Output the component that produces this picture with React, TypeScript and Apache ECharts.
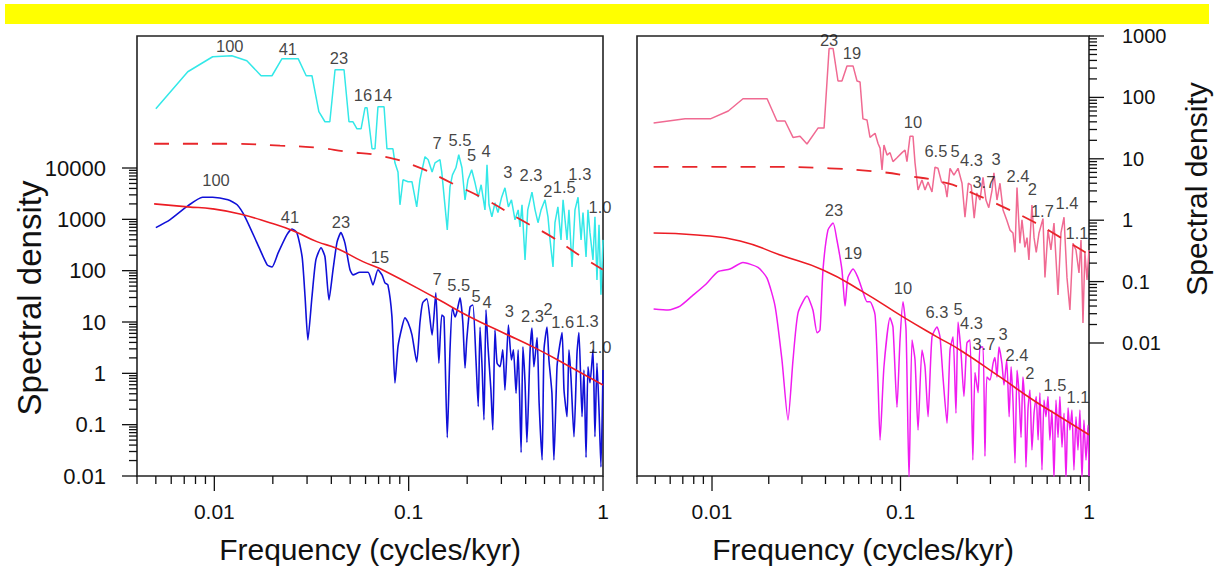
import React, { useEffect, useRef } from 'react';
import * as echarts from 'echarts';

const FONT = '"Liberation Sans", Arial, Helvetica, sans-serif';

// ---------- Left panel (frequency [cycles/kyr], spectral density) ----------
const cyanSpectrum: [number, number][] = [[0.005,143000],[0.0073,750000],[0.0098,1470000],[0.0123,1540000],[0.0147,1230000],[0.0174,627000],[0.0198,627000],[0.0223,1350000],[0.027,1350000],[0.0297,627000],[0.0318,627000],[0.0345,125000],[0.0371,79600],[0.0393,79600],[0.0418,820000],[0.0465,820000],[0.0493,79600],[0.0517,79600],[0.0542,58100],[0.0569,58100],[0.0596,149000],[0.0611,149000],[0.0648,23700],[0.0671,23700],[0.0695,156000],[0.0747,156000],[0.0773,23700],[0.083,23700],[0.085,12600],[0.0881,8400],[0.0902,1920],[0.0935,5890],[0.0993,5400],[0.104,5400],[0.11,1750],[0.1143,5890],[0.1213,16600],[0.126,14500],[0.132,8400],[0.1366,12600],[0.1449,14500],[0.148,8400],[0.158,624],[0.1632,4300],[0.168,7360],[0.175,10100],[0.181,18100],[0.188,10100],[0.195,2400],[0.2018,5890],[0.211,9230],[0.2195,5150],[0.228,2700],[0.236,4710],[0.247,1530],[0.253,11500],[0.259,1920],[0.268,1120],[0.278,2100],[0.288,1350],[0.301,2700],[0.313,4120],[0.326,1750],[0.338,2400],[0.3525,977],[0.366,1530],[0.374,715],[0.383,1920],[0.397,162],[0.41,1530],[0.431,3400],[0.447,1530],[0.463,860],[0.48,1530],[0.503,2400],[0.521,1120],[0.534,398],[0.553,118],[0.566,860],[0.586,1750],[0.608,398],[0.623,2400],[0.653,398],[0.668,1530],[0.693,118],[0.7175,1530],[0.744,2700],[0.771,398],[0.789,1350],[0.818,185],[0.837,1530],[0.857,550],[0.888,162],[0.909,1120],[0.931,66],[0.954,782],[0.976,34],[1,398]];

const blueSpectrum: [number, number][] = [[0.005,690],[0.0059,977],[0.0073,1830],[0.0087,2700],[0.0098,2700],[0.01175,2400],[0.0131,1920],[0.0144,1110],[0.0166,345],[0.0187,130],[0.0198,118],[0.0213,222],[0.0236,499],[0.0251,650],[0.0266,550],[0.0283,185],[0.0293,31],[0.0303,4.48],[0.0318,31],[0.0333,162],[0.0354,280],[0.0371,185],[0.0389,27],[0.0408,104],[0.0428,360],[0.0448,550],[0.047,345],[0.0499,104],[0.0517,83],[0.0561,93],[0.0618,93],[0.0655,53],[0.0695,104],[0.0729,83],[0.0755,58],[0.0782,53],[0.082,12.9],[0.085,0.65],[0.0881,3.3],[0.0924,8],[0.0957,12.1],[0.0993,9.8],[0.104,5.6],[0.11,1.66],[0.1143,9.8],[0.118,23.6],[0.124,28.3],[0.132,5.6],[0.138,37],[0.143,1.58],[0.148,13.7],[0.152,12.5],[0.158,0.056],[0.1632,2.86],[0.168,18.9],[0.1732,12.5],[0.177,15.7],[0.1838,29.6],[0.19,9.8],[0.195,1.27],[0.199,4.48],[0.207,19.7],[0.214,21.5],[0.222,1.82],[0.228,0.226],[0.233,8],[0.239,1.16],[0.244,0.124],[0.25,17.2],[0.256,3.3],[0.265,0.474],[0.271,0.0788],[0.278,7],[0.285,1.58],[0.295,1.34],[0.305,2.86],[0.313,0.474],[0.326,8.77],[0.338,1.82],[0.346,2.86],[0.357,0.41],[0.366,2.86],[0.379,0.0286],[0.387,3.3],[0.397,0.654],[0.406,0.045],[0.421,2.5],[0.431,7.6],[0.441,1.34],[0.458,5],[0.469,0.27],[0.486,0.0205],[0.497,2.86],[0.515,8],[0.527,1.82],[0.546,0.41],[0.559,0.0205],[0.58,1.34],[0.594,2.86],[0.616,6.2],[0.63,0.474],[0.653,0.143],[0.668,2.86],[0.684,0.85],[0.709,0.058],[0.735,2.5],[0.752,6.2],[0.78,0.143],[0.798,1.16],[0.818,0.023],[0.837,1.34],[0.857,0.654],[0.888,2.86],[0.909,0.058],[0.931,1.58],[0.954,0.194],[0.976,0.015],[1,1.16]];

const leftRedNoise: [number, number][] = [[0.0049,2000],[0.0073,1750],[0.0098,1600],[0.01355,1270],[0.0193,860],[0.0254,600],[0.0337,368],[0.0428,270],[0.0582,150],[0.0711,110],[0.14,28.3],[0.207,12.5],[0.306,6.2],[0.457,3],[0.676,1.34],[1,0.594]];

const leftRedNoiseUpper: [number, number][] = [[0.0049,29700],[0.012,29700],[0.0218,27200],[0.0337,24900],[0.0481,20800],[0.0711,17300],[0.1077,11000],[0.168,5000],[0.253,2350],[0.374,1000],[0.553,440],[0.735,214],[1,104]];

const cyanPeakLabels: [string, number, number][] = [['100',0.012,2.41e6],['41',0.0239,2.11e6],['23',0.0438,1.41e6],['16',0.0582,2.67e5],['14',0.0738,2.67e5],['7',0.14,31000],['5.5',0.1838,35500],['5',0.211,18100],['4',0.25,21600],['3',0.324,8400],['2.3',0.426,7360],['2',0.52,3590],['1.5',0.632,4200],['1.3',0.76,7750],['1.0',0.965,1750]];

const bluePeakLabels: [string, number, number][] = [['100',0.0102,5890],['41',0.0245,1110],['23',0.0448,890],['15',0.0711,185],['7',0.14,70],['5.5',0.181,52.8],['5',0.222,32],['4',0.253,24.6],['3',0.33,16.4],['2.3',0.434,13.1],['2',0.521,17.9],['1.6',0.62,10.1],['1.3',0.83,10.5],['1.0',0.965,3.3]];

// ---------- Right panel ----------
const pinkSpectrum: [number, number][] = [[0.0049,38.4],[0.0072,44.8],[0.0098,44.7],[0.0122,60],[0.0146,95],[0.0196,95],[0.0221,41.3],[0.0244,41.3],[0.0269,22.3],[0.0293,23.2],[0.0319,17.4],[0.0365,31.6],[0.0393,31.6],[0.0418,625],[0.0439,625],[0.0466,185],[0.0489,185],[0.052,326],[0.056,326],[0.0588,185],[0.061,178],[0.0632,44.7],[0.0664,42.9],[0.0689,22.3],[0.0733,26.1],[0.076,17.8],[0.0779,14.9],[0.0798,6.57],[0.0817,16.8],[0.0848,11.5],[0.088,12.6],[0.0912,9.0],[0.0958,10.4],[0.1019,12.6],[0.1057,13.9],[0.1082,9.0],[0.1123,23.2],[0.1165,23.2],[0.1194,8.6],[0.1239,3.1],[0.13,4.52],[0.1349,3.1],[0.14,4.2],[0.1469,2.88],[0.1524,7.3],[0.158,7.0],[0.165,4.2],[0.1722,3.74],[0.1765,2.37],[0.1831,7.0],[0.192,5.44],[0.2019,7.0],[0.212,4.0],[0.2198,1.12],[0.229,4.0],[0.237,3.74],[0.246,1.08],[0.254,2.78],[0.264,2.13],[0.274,5.0],[0.284,2.13],[0.294,1.6],[0.306,3.1],[0.313,5.9],[0.325,2.13],[0.337,4.0],[0.35,1.47],[0.366,1.01],[0.381,0.69],[0.395,0.62],[0.405,0.3],[0.415,3.4],[0.43,0.42],[0.441,1.01],[0.457,0.36],[0.469,0.52],[0.48,0.225],[0.498,1.77],[0.511,0.52],[0.525,0.3],[0.543,0.62],[0.57,1.06],[0.584,0.117],[0.606,0.69],[0.628,0.327],[0.652,0.9],[0.685,0.0605],[0.71,0.62],[0.737,1.12],[0.764,0.117],[0.792,0.0344],[0.822,0.42],[0.853,0.327],[0.885,0.138],[0.907,0.476],[0.929,0.0212],[0.951,0.3],[0.976,0.106],[1,0.327]];

const magentaSpectrum: [number, number][] = [[0.0049,0.0357],[0.00585,0.0344],[0.00677,0.04],[0.00783,0.058],[0.00918,0.088],[0.01076,0.145],[0.01245,0.16],[0.0146,0.204],[0.01754,0.17],[0.01958,0.114],[0.0216,0.04],[0.0235,0.0053],[0.0253,0.000557],[0.0269,0.0053],[0.0286,0.031],[0.0319,0.058],[0.0343,0.0344],[0.0361,0.0147],[0.0374,0.0163],[0.0388,0.155],[0.0412,0.69],[0.0439,0.9],[0.046,0.476],[0.0489,0.155],[0.0508,0.04],[0.0526,0.117],[0.056,0.16],[0.0594,0.117],[0.0632,0.068],[0.0664,0.047],[0.0689,0.047],[0.0733,0.0286],[0.076,0.00223],[0.0779,0.000263],[0.0817,0.0041],[0.088,0.0257],[0.0912,0.0183],[0.0958,0.0009],[0.0994,0.0112],[0.1031,0.047],[0.107,0.0163],[0.111,0.00006],[0.1151,0.0112],[0.1194,0.0053],[0.1239,0.000383],[0.13,0.0077],[0.1349,0.0041],[0.14,0.00063],[0.1469,0.0126],[0.1562,0.0183],[0.162,0.0126],[0.168,0.0028],[0.1765,0.000495],[0.1831,0.0077],[0.19,0.0126],[0.1969,0.00072],[0.2019,0.022],[0.209,0.0077],[0.217,0.00135],[0.225,0.01],[0.2337,0.0112],[0.242,0.000124],[0.2484,0.0033],[0.258,0.00155],[0.264,0.0086],[0.274,0.0086],[0.2806,0.000143],[0.287,0.0028],[0.2983,0.0025],[0.31,0.0047],[0.317,0.0058],[0.325,0.0028],[0.333,0.0086],[0.345,0.0047],[0.354,0.00207],[0.366,0.0053],[0.377,0.00063],[0.386,0.0041],[0.395,0.00118],[0.405,0.00011],[0.415,0.0036],[0.425,0.00155],[0.436,0.00029],[0.446,0.0028],[0.457,0.00081],[0.463,0.000095],[0.475,0.00088],[0.486,0.00172],[0.498,0.000181],[0.511,0.00072],[0.525,0.00135],[0.537,0.000263],[0.549,0.00155],[0.563,0.0000855],[0.577,0.00118],[0.591,0.00063],[0.606,0.00135],[0.62,0.000263],[0.636,0.00081],[0.652,0.00006],[0.668,0.00118],[0.685,0.00029],[0.701,0.00135],[0.719,0.0002],[0.737,0.00072],[0.755,0.00006],[0.774,0.00088],[0.792,0.000383],[0.812,0.00081],[0.832,0.0000855],[0.853,0.00063],[0.874,0.000181],[0.895,0.00081],[0.918,0.00006],[0.94,0.000557],[0.964,0.000124],[0.988,0.00046],[1,0.00006]];

const rightRedNoise: [number, number][] = [[0.0049,0.62],[0.00832,0.574],[0.0141,0.46],[0.023,0.271],[0.0388,0.155],[0.0632,0.068],[0.1031,0.0266],[0.156,0.0126],[0.2068,0.0077],[0.337,0.0028],[0.505,0.00118],[0.701,0.00063],[1,0.00032]];

const rightRedNoiseUpper: [number, number][] = [[0.0049,7.4],[0.01865,7.4],[0.042,7.0],[0.0779,6.1],[0.103,5.44],[0.1765,4.0],[0.254,2.57],[0.35,1.65],[0.505,0.95],[0.701,0.53],[0.976,0.29],[1,0.28]];

const pinkPeakLabels: [string, number, number][] = [['23',0.0418,861],['19',0.0553,528],['10',0.1165,39.7],['6.5',0.154,13.3],['5',0.1946,13.3],['4.3',0.238,9.4],['3',0.321,10],['3.7',0.277,4.2],['2.4',0.42,5.2],['2',0.5,3.2],['1.7',0.566,1.4],['1.4',0.764,1.9],['1.1',0.863,0.62]];

const magentaPeakLabels: [string, number, number][] = [['23',0.0444,1.47],['19',0.056,0.297],['10',0.1031,0.079],['6.3',0.156,0.0325],['5',0.2019,0.0357],['4.3',0.238,0.0215],['3.7',0.277,0.0098],['3',0.35,0.0142],['2.4',0.415,0.0064],['2',0.486,0.0033],['1.5',0.659,0.00207],['1.1',0.874,0.00132]];

// ---------- Axes ----------
const X_MIN = 0.004;
const X_MAX = 1;
const LEFT_Y_MIN = 0.01;
const LEFT_Y_MAX = 3.73e6;
const RIGHT_Y_MIN = 6.82e-5;
const RIGHT_Y_MAX = 1000;
const xTickLabels = ['0.01', '0.1', '1'];
const leftYTickLabels = ['0.01', '0.1', '1', '10', '100', '1000', '10000'];
const rightYTickLabels = ['0.01', '0.1', '1', '10', '100', '1000'];

const labelFormatter = (labels: string[]) => (v: number) => {
  for (const l of labels) {
    if (Math.abs(Math.log10(v) - Math.log10(parseFloat(l))) < 1e-6) return l;
  }
  return '';
};

// tick positions (major decades + minor 2..9 subdivisions)
function logTicks(fromExp: number, toExp: number, minorStart: number, minorEndExp: number) {
  const out: { v: number; major: boolean }[] = [];
  for (let e = fromExp; e <= toExp; e++) out.push({ v: Math.pow(10, e), major: true });
  for (let e = fromExp - 1; e <= minorEndExp; e++) {
    for (let m = 2; m <= 9; m++) {
      const v = m * Math.pow(10, e);
      if (v >= minorStart - 1e-12) out.push({ v, major: false });
    }
  }
  return out;
}

const xTicks = logTicks(-2, 0, 0.004, -1);
const leftYTicks = logTicks(-2, 4, 0.01, 3);
const rightYTicks = logTicks(-2, 3, 0.01, 2);

function tickSeries(xi: number, kind: 'x' | 'yl' | 'yr', ticks: { v: number; major: boolean }[], anchor: number) {
  return {
    type: 'custom',
    xAxisIndex: xi,
    yAxisIndex: xi,
    silent: true,
    clip: false,
    z: 20,
    data: ticks.map(t => (kind === 'x' ? [t.v, anchor, t.major ? 1 : 0] : [anchor, t.v, t.major ? 1 : 0])),
    renderItem: (_params: any, api: any) => {
      const p = api.coord([api.value(0), api.value(1)]);
      const major = api.value(2) === 1;
      let shape;
      if (kind === 'x') shape = { x1: p[0], y1: p[1], x2: p[0], y2: p[1] + (major ? 15 : 8) };
      else if (kind === 'yl') shape = { x1: p[0], y1: p[1], x2: p[0] - (major ? 15 : 8), y2: p[1] };
      else shape = { x1: p[0], y1: p[1], x2: p[0] + (major ? 15 : 8), y2: p[1] };
      return { type: 'line', shape, style: { stroke: '#111', lineWidth: 1.3 } };
    },
  };
}

function lineSeries(idx: number, data: [number, number][], color: string, width: number, dashed = false, smooth: number | boolean = false) {
  return {
    type: 'line',
    xAxisIndex: idx,
    yAxisIndex: idx,
    data,
    symbol: 'none',
    smooth,
    clip: true,
    lineStyle: { color, width, type: dashed ? [15, 14] : 'solid' },
    z: 5,
  };
}

function labelSeries(idx: number, labels: [string, number, number][]) {
  return {
    type: 'scatter',
    xAxisIndex: idx,
    yAxisIndex: idx,
    symbolSize: 1,
    itemStyle: { color: 'rgba(0,0,0,0)' },
    silent: true,
    clip: false,
    z: 15,
    data: labels.map(([t, f, s]) => ({ name: t, value: [f, s] })),
    label: {
      show: true,
      position: 'inside',
      formatter: '{b}',
      fontSize: 16.5,
      lineHeight: 17,
      fontFamily: FONT,
      color: '#111',
    },
  };
}

const axisLabelStyle = { fontSize: 20, fontFamily: FONT, color: '#111' };

export default function App() {
  const ref = useRef<HTMLDivElement>(null);
  useEffect(() => {
    if (!ref.current) return;
    const chart = echarts.init(ref.current, null, { renderer: 'svg' });
    const gridBase = { top: 36, height: 440, show: true, borderColor: '#222', borderWidth: 1.6, backgroundColor: 'transparent', containLabel: false };
    const xAxisBase = (gi: number) => ({
      gridIndex: gi,
      type: 'log',
      logBase: 10,
      min: X_MIN,
      max: X_MAX,
      axisLine: { show: false },
      axisTick: { show: false },
      splitLine: { show: false },
      minorTick: { show: false },
      axisLabel: { ...axisLabelStyle, fontSize: 21, margin: 25, formatter: labelFormatter(xTickLabels) },
    });
    chart.setOption({
      animation: false,
      backgroundColor: '#fff',
      grid: [
        { ...gridBase, left: 137, width: 466 },
        { ...gridBase, left: 637, width: 452 },
      ],
      xAxis: [xAxisBase(0), xAxisBase(1)],
      yAxis: [
        {
          gridIndex: 0,
          type: 'log',
          logBase: 10,
          min: LEFT_Y_MIN,
          max: LEFT_Y_MAX,
          position: 'left',
          axisLine: { show: false },
          axisTick: { show: false },
          splitLine: { show: false },
          axisLabel: { ...axisLabelStyle, fontSize: 22, margin: 31, formatter: labelFormatter(leftYTickLabels) },
        },
        {
          gridIndex: 1,
          type: 'log',
          logBase: 10,
          min: RIGHT_Y_MIN,
          max: RIGHT_Y_MAX,
          position: 'right',
          axisLine: { show: false },
          axisTick: { show: false },
          splitLine: { show: false },
          axisLabel: { ...axisLabelStyle, margin: 33, formatter: labelFormatter(rightYTickLabels) },
        },
      ],
      graphic: [
        { type: 'rect', shape: { x: 5, y: 4, width: 1204, height: 20 }, style: { fill: '#ffff00' }, silent: true },
        { type: 'text', x: 29, y: 298, rotation: Math.PI / 2, style: { text: 'Spectral density', fontSize: 33, fontFamily: FONT, fill: '#111', align: 'center', verticalAlign: 'middle' } },
        { type: 'text', x: 1196, y: 189, rotation: Math.PI / 2, style: { text: 'Spectral density', fontSize: 30, fontFamily: FONT, fill: '#111', align: 'center', verticalAlign: 'middle' } },
        { type: 'text', x: 370, y: 549, style: { text: 'Frequency (cycles/kyr)', fontSize: 30, fontFamily: FONT, fill: '#111', align: 'center', verticalAlign: 'middle' } },
        { type: 'text', x: 863, y: 549, style: { text: 'Frequency (cycles/kyr)', fontSize: 30, fontFamily: FONT, fill: '#111', align: 'center', verticalAlign: 'middle' } },
      ],
      series: [
        lineSeries(0, cyanSpectrum, '#33e8e8', 1.5),
        lineSeries(0, leftRedNoiseUpper, '#e8262a', 1.8, true, true),
        lineSeries(0, blueSpectrum, '#1010d8', 1.6, false, 0.2),
        lineSeries(0, leftRedNoise, '#ec1c24', 1.6, false, true),
        lineSeries(1, pinkSpectrum, '#f06a92', 1.5),
        lineSeries(1, rightRedNoiseUpper, '#e8262a', 1.8, true, true),
        lineSeries(1, magentaSpectrum, '#f01cf0', 1.5, false, 0.2),
        lineSeries(1, rightRedNoise, '#ec1c24', 1.6, false, true),
        labelSeries(0, cyanPeakLabels),
        labelSeries(0, bluePeakLabels),
        labelSeries(1, pinkPeakLabels),
        labelSeries(1, magentaPeakLabels),
        tickSeries(0, 'x', xTicks, LEFT_Y_MIN),
        tickSeries(1, 'x', xTicks, RIGHT_Y_MIN),
        tickSeries(0, 'yl', leftYTicks, X_MIN),
        tickSeries(1, 'yr', rightYTicks, X_MAX),
      ],
    });
    return () => chart.dispose();
  }, []);
  return <div ref={ref} style={{ position: 'fixed', left: 0, top: 0, width: 1220, height: 572, background: '#fff' }} />;
}
